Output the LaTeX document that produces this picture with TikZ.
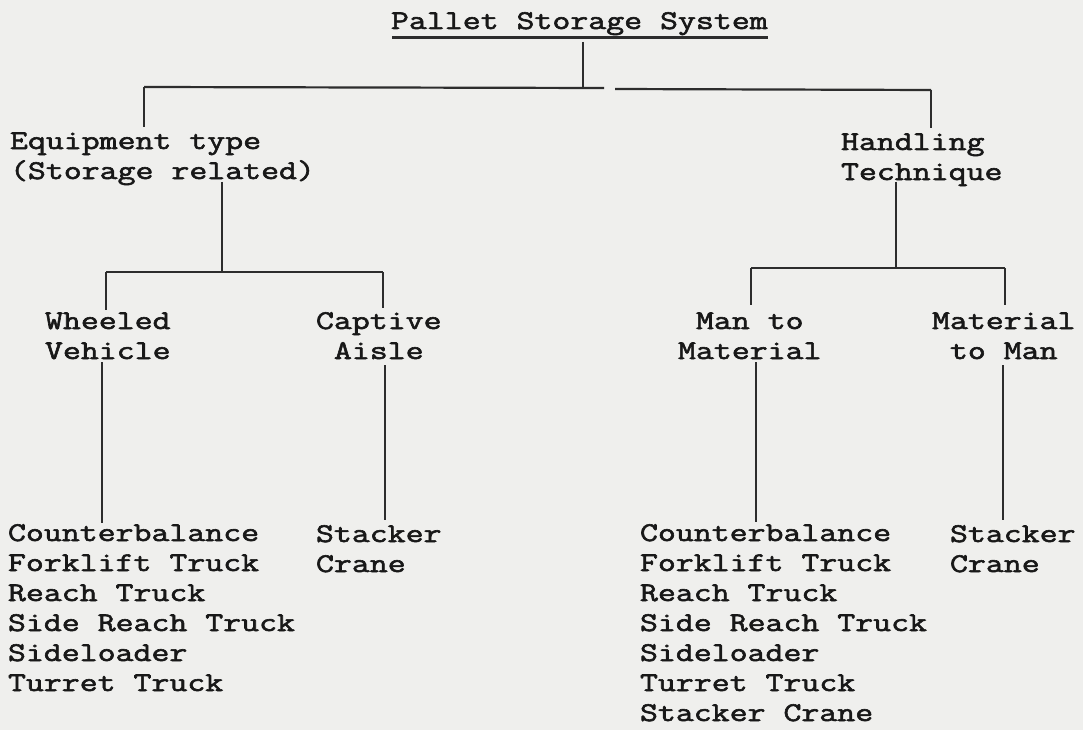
\documentclass[tikz,border=0pt]{standalone}
\usepackage{fontspec}
\setmonofont[FakeBold=2.2,FakeStretch=1.29]{Latin Modern Mono}
\usetikzlibrary{calc}
\definecolor{paper}{RGB}{239,239,237}
\definecolor{ink}{RGB}{24,24,24}
\definecolor{rulec}{RGB}{45,45,45}
\tikzset{
  lbl/.style={inner sep=0pt, outer sep=0pt, text=ink, font=\ttfamily\fontsize{27}{30}\selectfont},
  lblL/.style={lbl, align=left, anchor=base west},
  lblC/.style={lbl, align=center, anchor=base west},
  stem/.style={draw=rulec, line width=1.2pt},
  bar/.style={draw=rulec, line width=2.2pt},
  ulin/.style={draw=rulec, line width=2.6pt},
}
\begin{document}
\begin{tikzpicture}[x=1pt,y=-1pt]
\fill[paper] (0,0) rectangle (1083,730);
\useasboundingbox (0,0) rectangle (1083,730);

% labels (base anchor = baseline of the last line)
\node[lblL] (title) at (391,29) {Pallet Storage System};
\node[lblL] (equip) at (10,179) {Equipment type\\(Storage related)};
\node[lblL] (handl) at (841,180) {Handling\\Technique};
\node[lblC] (wheel) at (45,359) {Wheeled\\Vehicle};
\node[lblC] (capt)  at (316,359) {Captive\\Aisle};
\node[lblC] (mtm)   at (678,359) {Man to\\Material};
\node[lblC] (matm)  at (932,359) {Material\\to Man};
\node[lblL] (leafA) at (8,691) {Counterbalance\\Forklift Truck\\Reach Truck\\Side Reach Truck\\Sideloader\\Turret Truck};
\node[lblL] (leafB) at (316,572) {Stacker\\Crane};
\node[lblL] (leafC) at (640,721) {Counterbalance\\Forklift Truck\\Reach Truck\\Side Reach Truck\\Sideloader\\Turret Truck\\Stacker Crane};
\node[lblL] (leafD) at (950,572) {Stacker\\Crane};

% title underline
\draw[ulin] ($(title.base west)+(1,8.5)$) -- ($(title.base east)+(0,8.5)$);

% junction coordinates
\coordinate (t0) at (583,42);
\coordinate (j0) at (583,88);
\coordinate (b0L) at (144,87);
\coordinate (g0a) at (604,88);
\coordinate (g0b) at (615,89);
\coordinate (b0R) at (931,90);
\coordinate (eqT) at (144,127);
\coordinate (haT) at (931,128);

\coordinate (eqS) at (222,182);
\coordinate (j1) at (222,272);
\coordinate (b1L) at (106,272);
\coordinate (b1R) at (383,272);
\coordinate (whT) at (106,310);
\coordinate (caT) at (383,308);

\coordinate (haS) at (896,182);
\coordinate (j2) at (896,268);
\coordinate (b2L) at (751,268);
\coordinate (b2R) at (1005,268);
\coordinate (mmT) at (751,305);
\coordinate (maT) at (1005,305);

\coordinate (whS) at (102,362);
\coordinate (lAT) at (102,523);
\coordinate (caS) at (385,365);
\coordinate (lBT) at (385,520);
\coordinate (mmS) at (756,362);
\coordinate (lCT) at (756,522);
\coordinate (maS) at (1003,365);
\coordinate (lDT) at (1003,520);

% top level
\draw[stem] (t0) -- (j0);
\draw[bar] (b0L) -- (g0a);
\draw[bar] (g0b) -- (b0R);
\draw[stem] (b0L) -- (eqT);
\draw[stem] (b0R) -- (haT);

% equipment branch
\draw[stem] (eqS) -- (j1);
\draw[bar] (b1L) -- (b1R);
\draw[stem] (b1L) -- (whT);
\draw[stem] (b1R) -- (caT);

% handling branch
\draw[stem] (haS) -- (j2);
\draw[bar] (b2L) -- (b2R);
\draw[stem] (b2L) -- (mmT);
\draw[stem] (b2R) -- (maT);

% to leaves
\draw[stem] (whS) -- (lAT);
\draw[stem] (caS) -- (lBT);
\draw[stem] (mmS) -- (lCT);
\draw[stem] (maS) -- (lDT);
\end{tikzpicture}
\end{document}
